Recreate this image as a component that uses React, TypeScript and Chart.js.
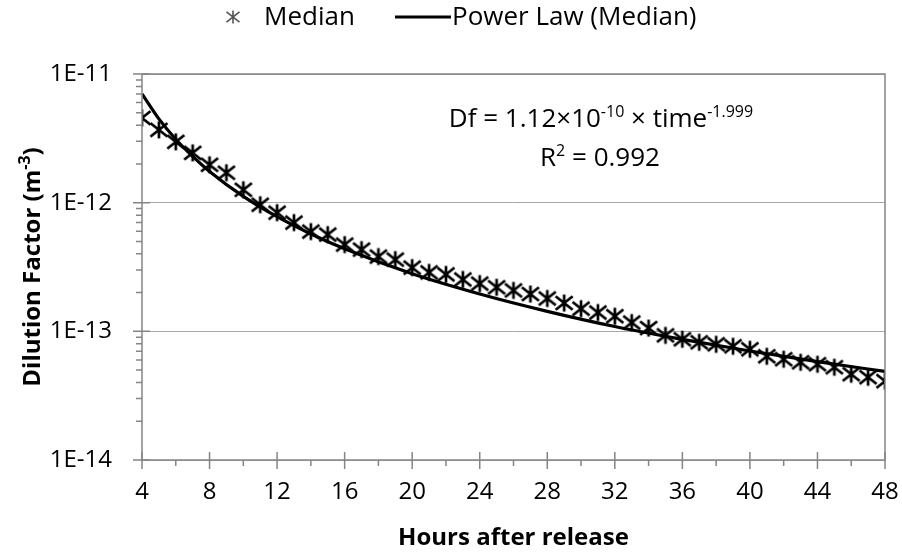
import React, { useEffect, useRef } from "react";
import { Chart, registerables } from "chart.js";

Chart.register(...registerables);

const HOURS = [4, 5, 6, 7, 8, 9, 10, 11, 12, 13, 14, 15, 16, 17, 18, 19, 20, 21, 22, 23, 24, 25, 26, 27, 28, 29, 30, 31, 32, 33, 34, 35, 36, 37, 38, 39, 40, 41, 42, 43, 44, 45, 46, 47, 48];
const MEDIAN_DF = [
  4.56e-12, 3.68e-12, 2.97e-12, 2.44e-12, 1.97e-12, 1.71e-12, 1.26e-12, 9.64e-13, 8.36e-13, 7.0e-13,
  5.96e-13, 5.65e-13, 4.72e-13, 4.32e-13, 3.81e-13, 3.61e-13, 3.13e-13, 2.87e-13, 2.77e-13, 2.53e-13,
  2.35e-13, 2.2e-13, 2.08e-13, 1.95e-13, 1.8e-13, 1.66e-13, 1.5e-13, 1.4e-13, 1.31e-13, 1.17e-13,
  1.06e-13, 9.31e-14, 8.67e-14, 8.22e-14, 7.93e-14, 7.65e-14, 7.25e-14, 6.4e-14, 6.07e-14, 5.75e-14,
  5.55e-14, 5.26e-14, 4.64e-14, 4.4e-14, 4.1e-14,
];
const FIT_HOURS = [4, 5, 6, 7, 8, 10, 12, 14, 16, 20, 24, 28, 32, 36, 40, 44, 48];
const FIT_DF = [7.0e-12, 4.48e-12, 3.11e-12, 2.29e-12, 1.75e-12, 1.12e-12, 7.78e-13, 5.71e-13, 4.38e-13, 2.8e-13, 1.95e-13, 1.43e-13, 1.09e-13, 8.67e-14, 7.03e-14, 5.81e-14, 4.88e-14];

const X_TICKS = [4, 8, 12, 16, 20, 24, 28, 32, 36, 40, 44, 48];
const X_MINOR_TICKS = [6, 10, 14, 18, 22, 26, 30, 34, 38, 42, 46];
const Y_TICKS = [1e-14, 1e-13, 1e-12, 1e-11];
const Y_TICK_LABELS = ["1E-14", "1E-13", "1E-12", "1E-11"];
const Y_MINOR_MULTIPLIERS = [2, 3, 4, 5, 6, 7, 8, 9];
const LEGEND_LABELS = ["Median", "Power Law (Median)"];
const X_TITLE = "Hours after release";
const Y_TITLE = "Dilution Factor (m";
const Y_TITLE_SUP = "-3";
const EQ_RUNS = [
  { t: "Df = 1.12×10", sup: false },
  { t: "-10", sup: true },
  { t: " × time", sup: false },
  { t: "-1.999", sup: true },
];
const R2_RUNS = [
  { t: "R", sup: false },
  { t: "2", sup: true },
  { t: " = 0.992", sup: false },
];

const FONT = '"Open Sans", Lato, sans-serif';
const FS = 24;
const BIG_FS = 26;
const BOLD_FS = 24;
const SUP_FS = 16;
const AXIS_COLOR = "#858585";

function drawStar(ctx: CanvasRenderingContext2D, x: number, y: number, r: number, color: string, lw: number) {
  ctx.save();
  ctx.strokeStyle = color;
  ctx.lineWidth = lw;
  ctx.lineCap = "butt";
  ctx.beginPath();
  ctx.moveTo(x - r, y - r * 0.8);
  ctx.lineTo(x + r, y + r * 0.8);
  ctx.moveTo(x + r, y - r * 0.8);
  ctx.lineTo(x - r, y + r * 0.8);
  ctx.moveTo(x, y - r);
  ctx.lineTo(x, y + r);
  ctx.stroke();
  ctx.restore();
}

function makeStarImage(): HTMLCanvasElement {
  const c = document.createElement("canvas");
  c.width = 20;
  c.height = 20;
  const ctx = c.getContext("2d")!;
  drawStar(ctx, 10, 10, 8.5, "#000", 2.7);
  return c;
}

function drawRuns(ctx: CanvasRenderingContext2D, runs: { t: string; sup: boolean }[], cx: number, baseline: number) {
  let total = 0;
  for (const r of runs) {
    ctx.font = `${r.sup ? SUP_FS : BIG_FS}px ${FONT}`;
    total += ctx.measureText(r.t).width;
  }
  let x = cx - total / 2;
  ctx.textAlign = "left";
  ctx.textBaseline = "alphabetic";
  for (const r of runs) {
    ctx.font = `${r.sup ? SUP_FS : BIG_FS}px ${FONT}`;
    ctx.fillText(r.t, x, r.sup ? baseline - 10 : baseline);
    x += ctx.measureText(r.t).width;
  }
}

const decorPlugin = {
  id: "decor",
  afterDraw(chart: any) {
    const ctx: CanvasRenderingContext2D = chart.ctx;
    const { left, right, top, bottom } = chart.chartArea;
    const xs = chart.scales.x;
    const ys = chart.scales.y;
    ctx.save();
    ctx.strokeStyle = AXIS_COLOR;
    ctx.lineWidth = 1.5;
    ctx.strokeRect(left, top, right - left, bottom - top);
    ctx.beginPath();
    for (const v of X_TICKS) {
      const px = xs.getPixelForValue(v);
      ctx.moveTo(px, bottom - 8);
      ctx.lineTo(px, bottom + 9);
    }
    for (const v of X_MINOR_TICKS) {
      const px = xs.getPixelForValue(v);
      ctx.moveTo(px, bottom);
      ctx.lineTo(px, bottom + 6);
    }
    for (const v of Y_TICKS) {
      const py = ys.getPixelForValue(v);
      ctx.moveTo(left - 9, py);
      ctx.lineTo(left + 8, py);
    }
    for (let i = 0; i < Y_TICKS.length - 1; i++) {
      for (const m of Y_MINOR_MULTIPLIERS) {
        const py = ys.getPixelForValue(Y_TICKS[i] * m);
        ctx.moveTo(left - 6, py);
        ctx.lineTo(left, py);
      }
    }
    ctx.stroke();

    ctx.fillStyle = "#000";
    ctx.font = `bold ${BOLD_FS}px ${FONT}`;
    ctx.textAlign = "center";
    ctx.textBaseline = "middle";
    ctx.fillText(X_TITLE, (left + right) / 2, 538);

    ctx.save();
    ctx.translate(32, (top + bottom) / 2);
    ctx.rotate(-Math.PI / 2);
    ctx.font = `bold ${BOLD_FS}px ${FONT}`;
    const w1 = ctx.measureText(Y_TITLE).width;
    ctx.font = `bold ${SUP_FS}px ${FONT}`;
    const w2 = ctx.measureText(Y_TITLE_SUP).width;
    ctx.font = `bold ${BOLD_FS}px ${FONT}`;
    const w3 = ctx.measureText(")").width;
    const x0 = -(w1 + w2 + w3) / 2;
    ctx.textAlign = "left";
    ctx.textBaseline = "alphabetic";
    ctx.fillText(Y_TITLE, x0, 8);
    ctx.font = `bold ${SUP_FS}px ${FONT}`;
    ctx.fillText(Y_TITLE_SUP, x0 + w1, -2);
    ctx.font = `bold ${BOLD_FS}px ${FONT}`;
    ctx.fillText(")", x0 + w1 + w2, 8);
    ctx.restore();

    drawRuns(ctx, EQ_RUNS, 601, 127);
    drawRuns(ctx, R2_RUNS, 600, 166);

    drawStar(ctx, 233, 17, 6.5, "#555", 1.6);
    ctx.font = `${BIG_FS}px ${FONT}`;
    ctx.textAlign = "left";
    ctx.textBaseline = "middle";
    ctx.fillStyle = "#000";
    ctx.fillText(LEGEND_LABELS[0], 264, 18);
    ctx.strokeStyle = "#000";
    ctx.lineWidth = 3;
    ctx.beginPath();
    ctx.moveTo(395, 17);
    ctx.lineTo(451, 17);
    ctx.stroke();
    ctx.fillText(LEGEND_LABELS[1], 452, 18);
    ctx.restore();
  },
};

export default function App() {
  const ref = useRef<HTMLCanvasElement | null>(null);
  useEffect(() => {
    if (!ref.current) return;
    const star = makeStarImage();
    const chart = new Chart(ref.current, {
      type: "scatter",
      data: {
        datasets: [
          {
            label: LEGEND_LABELS[1],
            data: FIT_HOURS.map((h, i) => ({ x: h, y: FIT_DF[i] })),
            showLine: true,
            borderColor: "#000",
            borderWidth: 3.2,
            pointRadius: 0,
            pointHoverRadius: 0,
            cubicInterpolationMode: "monotone",
            order: 2,
          },
          {
            label: LEGEND_LABELS[0],
            data: HOURS.map((h, i) => ({ x: h, y: MEDIAN_DF[i] })),
            showLine: false,
            pointStyle: star as any,
            pointRadius: 9,
            borderColor: "#000",
            backgroundColor: "#000",
            order: 1,
          },
        ],
      },
      options: {
        animation: false,
        responsive: false,
        maintainAspectRatio: false,
        devicePixelRatio: 1,
        layout: { padding: { left: 0, right: 17, top: 74, bottom: 0 } },
        plugins: { legend: { display: false }, tooltip: { enabled: false } },
        events: [],
        scales: {
          x: {
            type: "linear",
            min: 4,
            max: 48,
            grid: { display: false, drawTicks: false },
            border: { display: false },
            afterBuildTicks: (s: any) => {
              s.ticks = X_TICKS.map((v) => ({ value: v }));
            },
            afterFit: (s: any) => {
              s.height = 94;
              s.paddingLeft = 0;
              s.paddingRight = 0;
            },
            ticks: {
              autoSkip: false,
              maxRotation: 0,
              padding: 18,
              color: "#000",
              font: { family: FONT, size: FS },
              callback: (v: any) => String(v),
            },
          },
          y: {
            type: "logarithmic",
            min: 1e-14,
            max: 1e-11,
            grid: { color: "#a8a8a8", lineWidth: 1, drawTicks: false },
            border: { display: false },
            afterBuildTicks: (s: any) => {
              s.ticks = Y_TICKS.map((v) => ({ value: v }));
            },
            afterFit: (s: any) => {
              s.width = 142;
              s.paddingTop = 0;
              s.paddingBottom = 0;
            },
            ticks: {
              autoSkip: false,
              padding: 30,
              color: "#000",
              font: { family: FONT, size: FS },
              callback: (v: any) => {
                const i = Y_TICKS.findIndex((t) => Math.abs(Math.log10(t) - Math.log10(Number(v))) < 1e-6);
                return i >= 0 ? Y_TICK_LABELS[i] : "";
              },
            },
          },
        },
      },
      plugins: [decorPlugin],
    });
    return () => chart.destroy();
  }, []);
  return (
    <div style={{ position: "fixed", left: 0, top: 0, width: 902, height: 554, background: "#fff" }}>
      <canvas ref={ref} width={902} height={554} style={{ display: "block", width: 902, height: 554 }} />
    </div>
  );
}
